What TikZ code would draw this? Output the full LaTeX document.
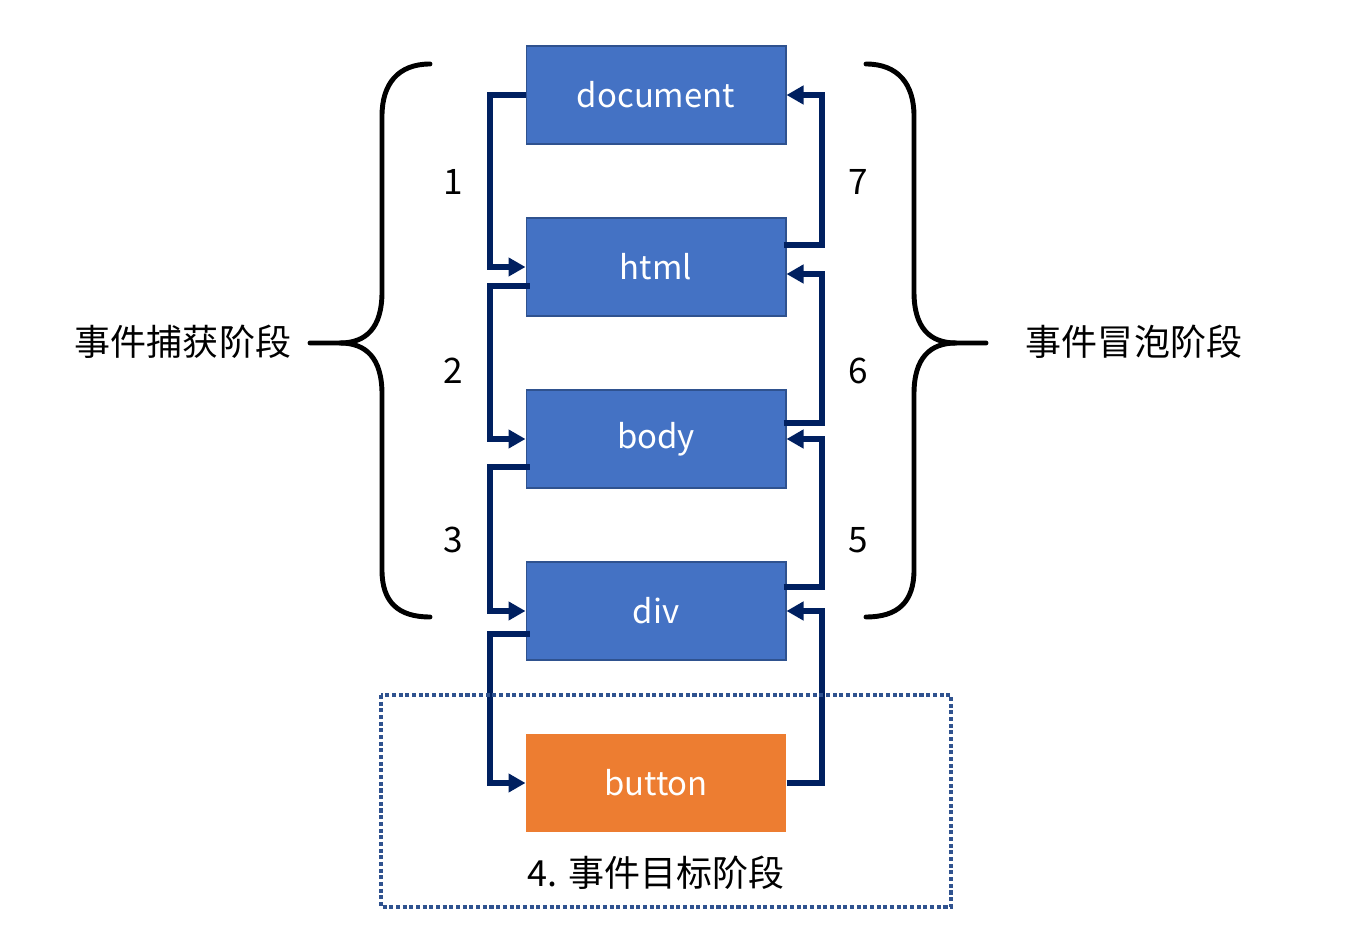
\documentclass[tikz,border=0pt]{standalone}
\usepackage{fontspec}
\setmainfont{Noto Sans CJK SC}
\usetikzlibrary{arrows.meta,calc}
\definecolor{boxblue}{HTML}{4472C4}
\definecolor{boxedge}{HTML}{2F528F}
\definecolor{btnorange}{HTML}{ED7D31}
\definecolor{navy}{HTML}{002060}
\tikzset{
  box/.style={rectangle, fill=boxblue, draw=boxedge, line width=0.6pt, minimum width=5.2cm, minimum height=1.96cm, text=white, font=\fontsize{18.7}{22}\selectfont},
  target/.style={box, fill=btnorange, draw=none},
  flow/.style={draw=navy, line width=3pt, -{Triangle[length=0.34cm,width=0.36cm]}},
  brace/.style={line width=2.8pt, line cap=round},
  num/.style={font=\fontsize{20}{24}\selectfont},
  phase/.style={font=\fontsize{20.5}{25}\selectfont}
}
\begin{document}
\begin{tikzpicture}[x=0.02cm, y=-0.02cm]
\useasboundingbox (0,0) rectangle (1347,935);
% elements
\node[box] (document) at (656,95) {document};
\node[box] (html) at (656,267) {html};
\node[box] (body) at (656,439) {body};
\node[box] (div) at (656,611) {div};
\node[target] (button) at (656,783) {button};
% columns of the connectors
\coordinate (lx) at (490,0);
\coordinate (rx) at (822,0);
% capturing
\coordinate (c1) at (document.west);
\coordinate (c2) at ($(html.west)+(4,19)$);
\coordinate (c3) at ($(body.west)+(4,28)$);
\coordinate (c4) at ($(div.west)+(4,23)$);
\draw[flow] (c1) -- (c1 -| lx) |- (html.west);
\draw[flow] (c2) -- (c2 -| lx) |- (body.west);
\draw[flow] (c3) -- (c3 -| lx) |- (div.west);
\draw[flow] (c4) -- (c4 -| lx) |- (button.west);
% bubbling
\coordinate (b1) at (button.east);
\coordinate (b2) at ($(div.east)+(-3,-24)$);
\coordinate (b3) at ($(body.east)+(-3,-16)$);
\coordinate (b4) at ($(html.east)+(-3,-22)$);
\draw[flow] (b1) -- (b1 -| rx) |- (div.east);
\draw[flow] (b2) -- (b2 -| rx) |- (body.east);
\draw[flow] (b3) -- (b3 -| rx) |- ($(html.east)+(0,7)$);
\draw[flow] (b4) -- (b4 -| rx) |- (document.east);
% step numbers
\node[num] (n1) at (453,182) {1};
\node[num] (n2) at (453,371) {2};
\node[num] (n3) at (453,540) {3};
\node[num] (n7) at (858,182) {7};
\node[num] (n6) at (858,371) {6};
\node[num] (n5) at (858,540) {5};
% braces
\draw[brace] (430,64) .. controls (398,64) and (382,84) .. (382,116) -- (382,292)
  .. controls (382,328) and (366,343) .. (340,343) -- (310,343);
\draw[brace] (340,343) .. controls (366,343) and (382,358) .. (382,394) -- (382,570)
  .. controls (382,602) and (398,617) .. (430,617);
\draw[brace] (866,64) .. controls (898,64) and (914,84) .. (914,116) -- (914,292)
  .. controls (914,328) and (930,343) .. (956,343) -- (986,343);
\draw[brace] (956,343) .. controls (930,343) and (914,358) .. (914,394) -- (914,570)
  .. controls (914,602) and (898,617) .. (866,617);
\node[phase] (capture) at (183,342) {事件捕获阶段};
\node[phase] (bubble) at (1134,342) {事件冒泡阶段};
% target phase
\draw[boxedge, line width=2.3pt, dash pattern=on 2.3pt off 1.5pt] (381,695) rectangle (951,907);
\node[phase] (targetlabel) at (656,873) {4. 事件目标阶段};
\end{tikzpicture}
\end{document}
